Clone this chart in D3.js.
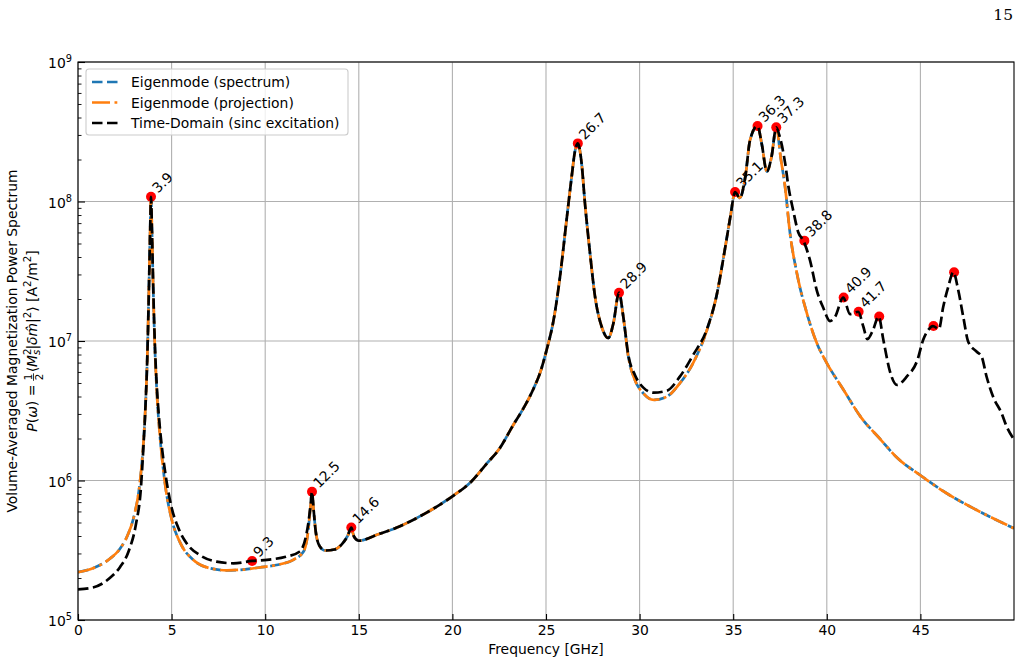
<!DOCTYPE html>
<html><head><meta charset="utf-8">
<script src="https://cdn.jsdelivr.net/npm/d3@7"></script>
<style>body{margin:0;background:#fff;} svg{display:block;font-family:"DejaVu Sans",sans-serif;}</style>
</head><body><svg id="c" width="1024" height="664"></svg>
<script>
// ---------- data ----------
const eigenFreq = [0, 0.8, 1.7, 2.25, 2.7, 3.0, 3.3, 3.5, 3.6, 3.7, 3.8, 3.85, 3.9, 3.95, 4.0, 4.1, 4.2, 4.35, 4.5, 4.7, 5.0, 5.45, 6.15, 7.05, 7.95, 8.85, 9.7, 10.6, 11.5, 12.05, 12.3, 12.42, 12.5, 12.58, 12.7, 12.9, 13.2, 13.7, 14.1, 14.4, 14.6, 14.75, 15.0, 16.0, 17.2, 18.0, 19.0, 20.0, 21.0, 21.85, 22.5, 23.25, 23.8, 24.35, 24.7, 25.05, 25.4, 25.75, 26.1, 26.37, 26.55, 26.7, 26.9, 27.08, 27.35, 27.62, 27.97, 28.33, 28.6, 28.9, 29.13, 29.4, 29.75, 30.2, 30.75, 31.45, 32.15, 32.85, 33.6, 34.1, 34.55, 34.85, 35.1, 35.35, 35.65, 35.9, 36.3, 36.52, 36.8, 37.05, 37.3, 37.55, 37.77, 38.03, 38.4, 38.93, 39.46, 40.0, 40.9, 41.8, 42.9, 43.7, 45.0, 46.4, 48.0, 50.0];
const eigenSpectrum = [2.2e5, 2.35e5, 2.75e5, 3.25e5, 4.2e5, 5.6e5, 9.5e5, 1.9e6, 3.3e6, 7.5e6, 2.8e7, 5.8e7, 1.08e8, 6.2e7, 3.0e7, 9.5e6, 4.6e6, 2.3e6, 1.4e6, 8.5e5, 5.3e5, 3.6e5, 2.7e5, 2.35e5, 2.27e5, 2.3e5, 2.38e5, 2.48e5, 2.7e5, 3.1e5, 4.4e5, 6.5e5, 8.2e5, 6.3e5, 4.3e5, 3.4e5, 3.15e5, 3.2e5, 3.5e5, 4.0e5, 4.5e5, 3.95e5, 3.7e5, 4.1e5, 4.7e5, 5.3e5, 6.3e5, 7.7e5, 9.8e5, 1.33e6, 1.68e6, 2.5e6, 3.3e6, 4.6e6, 6.0e6, 8.8e6, 1.4e7, 2.9e7, 7.4e7, 1.5e8, 2.3e8, 2.6e8, 1.89e8, 9.75e7, 4.27e7, 2.08e7, 1.27e7, 1.05e7, 1.34e7, 2.22e7, 1.49e7, 7.7e6, 5.25e6, 4.22e6, 3.78e6, 3.99e6, 4.98e6, 6.92e6, 1.2e7, 2.08e7, 4.49e7, 7.8e7, 1.17e8, 1.06e8, 1.51e8, 2.76e8, 3.48e8, 2.61e8, 1.64e8, 2.1e8, 3.4e8, 2.0e8, 1.28e8, 6.0e7, 3.07e7, 1.59e7, 9.7e6, 6.95e6, 4.45e6, 2.87e6, 1.95e6, 1.48e6, 1.09e6, 8.1e5, 6.15e5, 4.54e5];
// projection overlaps the spectrum everywhere in the picture
const eigenProjection = [2.2e5, 2.35e5, 2.75e5, 3.25e5, 4.2e5, 5.6e5, 9.5e5, 1.9e6, 3.3e6, 7.5e6, 2.8e7, 5.8e7, 1.08e8, 6.2e7, 3.0e7, 9.5e6, 4.6e6, 2.3e6, 1.4e6, 8.5e5, 5.3e5, 3.6e5, 2.7e5, 2.35e5, 2.27e5, 2.3e5, 2.38e5, 2.48e5, 2.7e5, 3.1e5, 4.4e5, 6.5e5, 8.2e5, 6.3e5, 4.3e5, 3.4e5, 3.15e5, 3.2e5, 3.5e5, 4.0e5, 4.5e5, 3.95e5, 3.7e5, 4.1e5, 4.7e5, 5.3e5, 6.3e5, 7.7e5, 9.8e5, 1.33e6, 1.68e6, 2.5e6, 3.3e6, 4.6e6, 6.0e6, 8.8e6, 1.4e7, 2.9e7, 7.4e7, 1.5e8, 2.3e8, 2.6e8, 1.89e8, 9.75e7, 4.27e7, 2.08e7, 1.27e7, 1.05e7, 1.34e7, 2.22e7, 1.49e7, 7.7e6, 5.25e6, 4.22e6, 3.78e6, 3.99e6, 4.98e6, 6.92e6, 1.2e7, 2.08e7, 4.49e7, 7.8e7, 1.17e8, 1.06e8, 1.51e8, 2.76e8, 3.48e8, 2.61e8, 1.64e8, 2.1e8, 3.4e8, 2.0e8, 1.28e8, 6.0e7, 3.07e7, 1.59e7, 9.7e6, 6.95e6, 4.45e6, 2.87e6, 1.95e6, 1.48e6, 1.09e6, 8.1e5, 6.15e5, 4.54e5];

const tdFreq = [0, 0.8, 1.7, 2.25, 2.7, 3.1, 3.35, 3.5, 3.6, 3.7, 3.8, 3.85, 3.9, 3.95, 4.0, 4.1, 4.2, 4.35, 4.5, 4.7, 5.0, 5.35, 5.8, 6.5, 7.4, 8.3, 9.3, 10.1, 11.1, 11.85, 12.3, 12.42, 12.5, 12.58, 12.7, 12.9, 13.2, 13.7, 14.1, 14.4, 14.6, 14.75, 15.0, 16.0, 17.2, 18.0, 19.0, 20.0, 21.0, 21.85, 22.5, 23.25, 23.8, 24.35, 24.7, 25.05, 25.4, 25.75, 26.1, 26.37, 26.55, 26.7, 26.9, 27.08, 27.35, 27.62, 27.97, 28.33, 28.6, 28.9, 29.13, 29.4, 29.75, 30.2, 30.75, 31.45, 32.15, 32.85, 33.6, 34.1, 34.55, 34.85, 35.1, 35.35, 35.65, 35.9, 36.3, 36.52, 36.8, 37.05, 37.3, 37.46, 37.77, 37.95, 38.2, 38.48, 38.75, 39.1, 39.46, 39.81, 40.17, 40.44, 40.88, 41.24, 41.68, 41.95, 42.17, 42.47, 42.77, 43.02, 43.38, 43.75, 44.27, 44.84, 45.15, 45.42, 45.67, 45.99, 46.22, 46.49, 46.76, 47.02, 47.29, 47.56, 48.01, 48.27, 48.54, 48.89, 49.34, 49.61, 50.0];
const tdPower = [1.66e5, 1.71e5, 2.0e5, 2.4e5, 3.1e5, 4.9e5, 8.5e5, 1.8e6, 3.3e6, 7.5e6, 2.8e7, 5.8e7, 1.08e8, 6.3e7, 3.1e7, 1.0e7, 5.0e6, 2.6e6, 1.65e6, 1.05e6, 6.4e5, 4.6e5, 3.55e5, 2.92e5, 2.62e5, 2.55e5, 2.65e5, 2.7e5, 2.84e5, 3.1e5, 4.9e5, 6.6e5, 8.3e5, 6.3e5, 4.3e5, 3.4e5, 3.15e5, 3.2e5, 3.5e5, 4.0e5, 4.6e5, 3.95e5, 3.7e5, 4.1e5, 4.7e5, 5.3e5, 6.3e5, 7.7e5, 9.8e5, 1.33e6, 1.68e6, 2.5e6, 3.3e6, 4.6e6, 6.0e6, 8.8e6, 1.4e7, 2.9e7, 7.4e7, 1.5e8, 2.3e8, 2.61e8, 1.89e8, 9.75e7, 4.27e7, 2.08e7, 1.27e7, 1.05e7, 1.34e7, 2.22e7, 1.49e7, 7.9e6, 5.7e6, 4.63e6, 4.26e6, 4.4e6, 5.55e6, 7.9e6, 1.22e7, 2.08e7, 4.49e7, 7.8e7, 1.17e8, 1.06e8, 1.51e8, 2.76e8, 3.48e8, 2.61e8, 1.64e8, 2.1e8, 3.4e8, 3.0e8, 1.9e8, 1.28e8, 8.7e7, 6.0e7, 5.24e7, 3.8e7, 2.32e7, 1.73e7, 1.39e7, 1.49e7, 2.05e7, 1.56e7, 1.62e7, 1.27e7, 1.03e7, 1.2e7, 1.5e7, 1.02e7, 6.0e6, 4.84e6, 5.55e6, 7.3e6, 1.02e7, 1.2e7, 1.28e7, 1.22e7, 1.76e7, 2.45e7, 3.11e7, 2.32e7, 1.49e7, 9.84e6, 8.38e6, 7.72e6, 5.52e6, 3.97e6, 3.03e6, 2.43e6, 1.97e6];

const peakFreq  = [3.9, 9.3, 12.5, 14.6, 26.7, 28.9, 35.1, 36.3, 37.3, 38.8, 40.9, 41.7, 42.8, 45.7, 46.8];
const peakPower = [1.08e8, 2.65e5, 8.3e5, 4.6e5, 2.61e8, 2.22e7, 1.17e8, 3.48e8, 3.4e8, 5.24e7, 2.05e7, 1.62e7, 1.5e7, 1.28e7, 3.11e7];
const peakLabel = ["3.9", "9.3", "12.5", "14.6", "26.7", "28.9", "35.1", "36.3", "37.3", "38.8", "40.9", "41.7", "", "", ""];

const xTicks = [0, 5, 10, 15, 20, 25, 30, 35, 40, 45];
const yTickExp = [5, 6, 7, 8, 9];
const seriesNames = ["Eigenmode (spectrum)", "Eigenmode (projection)", "Time-Domain (sinc excitation)"];
const pageNumber = "15";

// ---------- layout ----------
const m = {l: 78, r: 1014, t: 62, b: 620};
const FS = 13.9;
const svg = d3.select("#c");

const x = d3.scaleLinear().domain([0, 50]).range([m.l, m.r]);
const y = d3.scaleLog().domain([1e5, 1e9]).range([m.b, m.t]);

// page number
svg.append("text").attr("x", 1013).attr("y", 20).attr("text-anchor", "end")
  .style("font-family", "'DejaVu Serif', serif").style("font-size", "15.5px").text(pageNumber);

// grid
const grid = svg.append("g");
xTicks.forEach(v => grid.append("line").attr("x1", x(v)).attr("x2", x(v)).attr("y1", m.t).attr("y2", m.b)
  .attr("stroke", "#b0b0b0").attr("stroke-width", 1.1));
yTickExp.forEach(e => grid.append("line").attr("x1", m.l).attr("x2", m.r).attr("y1", y(Math.pow(10, e))).attr("y2", y(Math.pow(10, e)))
  .attr("stroke", "#b0b0b0").attr("stroke-width", 1.1));

// clip
svg.append("defs").append("clipPath").attr("id", "clip").append("rect")
  .attr("x", m.l).attr("y", m.t).attr("width", m.r - m.l).attr("height", m.b - m.t);

const line = d3.line().x(d => x(d[0])).y(d => y(d[1])).curve(d3.curveMonotoneX);
const plot = svg.append("g").attr("clip-path", "url(#clip)");

const BLUE = "#1f77b4", ORANGE = "#ff7f0e";
const LW = 2.7;
const DASH = "10.5,4.5", DASHDOT = "18,4.5,2.8,4.5";

plot.append("path").datum(d3.zip(eigenFreq, eigenSpectrum)).attr("d", line)
  .attr("fill", "none").attr("stroke", BLUE).attr("stroke-width", LW).attr("stroke-dasharray", DASH);
plot.append("path").datum(d3.zip(eigenFreq, eigenProjection)).attr("d", line)
  .attr("fill", "none").attr("stroke", ORANGE).attr("stroke-width", LW).attr("stroke-dasharray", DASHDOT);

// peak markers
const peaks = d3.zip(peakFreq, peakPower, peakLabel);
plot.selectAll("circle.pk").data(peaks).join("circle").attr("class", "pk")
  .attr("cx", d => x(d[0])).attr("cy", d => y(d[1])).attr("r", 5).attr("fill", "#ff0000");

plot.append("path").datum(d3.zip(tdFreq, tdPower)).attr("d", line)
  .attr("fill", "none").attr("stroke", "#000").attr("stroke-width", LW).attr("stroke-dasharray", DASH);

// peak labels
svg.selectAll("text.pl").data(peaks.filter(d => d[2] !== "")).join("text").attr("class", "pl")
  .attr("transform", d => `translate(${x(d[0]) + 7},${y(d[1]) - 3}) rotate(-45)`)
  .style("font-size", FS + "px").text(d => d[2]);

// axes
const xAxis = d3.axisBottom(x).tickValues(xTicks).tickSize(-6).tickPadding(5).tickFormat(d3.format("d"));
const gx = svg.append("g").attr("transform", `translate(0,${m.b})`).call(xAxis);
gx.select(".domain").remove();
gx.selectAll("text").style("font-size", FS + "px").style("font-family", "'DejaVu Sans'").attr("fill", "#000");
gx.selectAll("line").attr("stroke", "#000").attr("stroke-width", 1.1);

const yAxis = d3.axisLeft(y).tickValues(yTickExp.map(e => Math.pow(10, e))).tickSize(-7).tickFormat("");
const gy = svg.append("g").attr("transform", `translate(${m.l},0)`).call(yAxis);
gy.select(".domain").remove();
gy.selectAll("line").attr("stroke", "#000").attr("stroke-width", 1.1);

const minorVals = [];
for (let e = 5; e < 9; e++) for (let k = 2; k <= 9; k++) minorVals.push(k * Math.pow(10, e));
const gym = svg.append("g").attr("transform", `translate(${m.l},0)`)
  .call(d3.axisLeft(y).tickValues(minorVals).tickSize(-3.5).tickFormat(""));
gym.select(".domain").remove();
gym.selectAll("line").attr("stroke", "#000").attr("stroke-width", 0.9);

// y tick labels with superscripts
yTickExp.forEach(e => {
  const t = svg.append("text").attr("x", 72).attr("y", y(Math.pow(10, e)) + 6)
    .attr("text-anchor", "end").style("font-size", FS + "px");
  t.append("tspan").text("10");
  t.append("tspan").attr("dy", -6).style("font-size", "9.8px").text(String(e));
});

// frame
svg.append("rect").attr("x", m.l).attr("y", m.t).attr("width", m.r - m.l).attr("height", m.b - m.t)
  .attr("fill", "none").attr("stroke", "#000").attr("stroke-width", 1.1);

// x label
svg.append("text").attr("x", (m.l + m.r) / 2).attr("y", 654).attr("text-anchor", "middle")
  .style("font-size", FS + "px").text("Frequency [GHz]");

// y label line 1
svg.append("text").attr("transform", `translate(17,${(m.t + m.b) / 2}) rotate(-90)`)
  .attr("text-anchor", "middle").style("font-size", FS + "px")
  .text("Volume-Averaged Magnetization Power Spectrum");

// y label line 2 (math)
const g2 = svg.append("g").attr("transform", `translate(37,${(m.t + m.b) / 2}) rotate(-90)`);
const t2 = g2.append("text").attr("text-anchor", "middle").style("font-size", FS + "px");
const SM = "10.2px";
t2.append("tspan").style("font-style", "italic").text("P");
t2.append("tspan").text("(");
t2.append("tspan").style("font-style", "italic").text("ω");
t2.append("tspan").text(") = ");
const num = t2.append("tspan").attr("dy", -5.5).style("font-size", SM).text("1");
t2.append("tspan").attr("dy", 11).attr("dx", -6.5).style("font-size", SM).text("2");
t2.append("tspan").attr("dy", -5.5).attr("dx", 1.5).text("⟨");
t2.append("tspan").style("font-style", "italic").text("M");
t2.append("tspan").attr("dy", -6).style("font-size", SM).text("2");
t2.append("tspan").attr("dy", 9).attr("dx", -6.5).style("font-size", SM).style("font-style", "italic").text("s");
t2.append("tspan").attr("dy", -3).text("|");
t2.append("tspan").style("font-style", "italic").text("δm̂");
t2.append("tspan").text("|");
t2.append("tspan").attr("dy", -6).style("font-size", SM).text("2");
t2.append("tspan").attr("dy", 6).text("⟩ [A");
t2.append("tspan").attr("dy", -6).style("font-size", SM).text("2");
t2.append("tspan").attr("dy", 6).text("/m");
t2.append("tspan").attr("dy", -6).style("font-size", SM).text("2");
t2.append("tspan").attr("dy", 6).text("]");
try {
  const p = num.node().getStartPositionOfChar(0);
  const w = num.node().getComputedTextLength();
  g2.append("line").attr("x1", p.x - 0.5).attr("x2", p.x + w + 0.5).attr("y1", p.y + 2).attr("y2", p.y + 2)
    .attr("stroke", "#000").attr("stroke-width", 0.8);
} catch (e) {}

// legend
const lg = svg.append("g");
lg.append("rect").attr("x", 86).attr("y", 69).attr("width", 262).attr("height", 66).attr("rx", 3)
  .attr("fill", "#fff").attr("fill-opacity", 0.8).attr("stroke", "#cccccc").attr("stroke-width", 1.1);
const lstyles = [[BLUE, DASH], [ORANGE, DASHDOT], ["#000", DASH]];
seriesNames.forEach((s, i) => {
  const yy = 82 + i * 20.5;
  lg.append("line").attr("x1", 92).attr("x2", 118).attr("y1", yy).attr("y2", yy)
    .attr("stroke", lstyles[i][0]).attr("stroke-width", LW).attr("stroke-dasharray", lstyles[i][1]);
  lg.append("text").attr("x", 131).attr("y", yy + 5).style("font-size", FS + "px").text(s);
});
</script></body></html>
